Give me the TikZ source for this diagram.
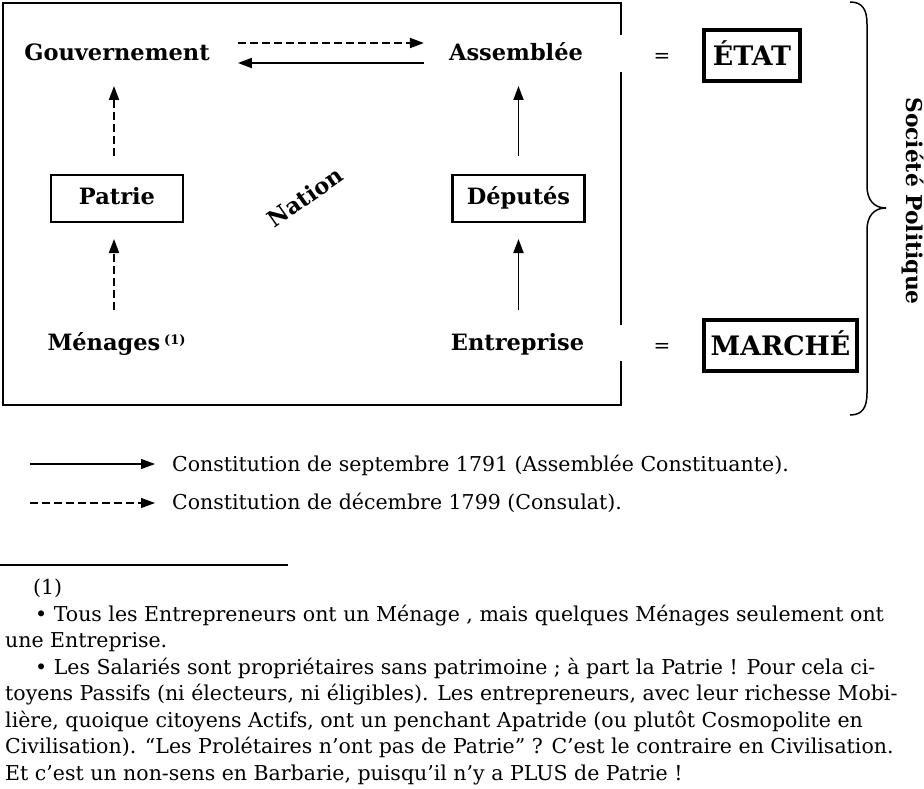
\documentclass[tikz,border=0pt]{standalone}
\usepackage{fontspec}
\setmainfont{DejaVu Serif}
\usetikzlibrary{arrows.meta}
\begin{document}
\begin{tikzpicture}[x=1pt,y=-1pt,
  lbl/.style={font=\bfseries\fontsize{22.5}{26}\selectfont, inner sep=0pt, anchor=base},
  frame/.style={line width=2.5pt},
  boxed/.style={draw, line width=2.5pt, inner sep=0pt, minimum width=132pt, minimum height=46.5pt, text height=16pt, text depth=4.5pt, font=\bfseries\fontsize{22.5}{26}\selectfont},
  bigbox/.style={draw, line width=4pt, inner sep=0pt, minimum height=51pt, text height=19.5pt, text depth=0pt, font=\bfseries\fontsize{26.8}{30}\selectfont},
  conn/.style={-{Triangle[length=14pt,width=10pt]}, line width=1.9pt},
  dconn/.style={conn, dash pattern=on 8pt off 4pt},
  legtext/.style={font=\fontsize{20.5}{24}\selectfont, anchor=base west, inner sep=0pt},
  fn/.style={font=\fontsize{20.5}{24}\selectfont, anchor=base west, inner sep=0pt},
  eq/.style={font=\fontsize{20}{24}\selectfont, inner sep=0pt}
]
\useasboundingbox (0,0) rectangle (924,789);

% main frame
\draw[frame] (621,35) -- (621,3) -- (3,3) -- (3,405) -- (621,405) -- (621,361);
\draw[frame] (621,72) -- (621,325);

% labels
\node[lbl] (gouv) at (117,61) {Gouvernement};
\node[lbl] (assem) at (516,61) {Assemblée};
\node[boxed] (patrie) at (117,198.5) {Patrie};
\node[boxed] (deputes) at (518.5,198.5) {Députés};
\node[lbl] (menages) at (116.5,350) {Ménages\,{\fontsize{13}{15}\selectfont\raisebox{6pt}{(1)}}};
\node[lbl] (entre) at (517.5,350) {Entreprise};
\node[lbl, anchor=center, rotate=35] (nation) at (305,197) {Nation};

% horizontal arrows
\draw[dconn] ([xshift=28pt,yshift=18pt]gouv.base east) -- ([xshift=-25pt,yshift=18pt]assem.base west);
\draw[conn] ([xshift=-25pt,yshift=-2pt]assem.base west) -- ([xshift=28pt,yshift=-2pt]gouv.base east);

% vertical arrows
\draw[dconn] ([xshift=-3pt,yshift=18pt]patrie.north) -- ([xshift=-3pt,yshift=-25pt]gouv.base);
\draw[dconn] ([xshift=-2.5pt,yshift=40pt]menages.base) -- ([xshift=-3pt,yshift=-16pt]patrie.south);
\draw[conn] ([yshift=18pt]deputes.north) -- ([yshift=-25pt]deputes.north |- assem.base);
\draw[conn] ([yshift=40pt]deputes.south |- entre.base) -- ([yshift=-16pt]deputes.south);

% right side
\node[eq] (eq1) at (662,58) {=};
\node[eq] (eq2) at (662,348) {=};
\node[bigbox, minimum width=96pt] (etat) at (752,55.5) {ÉTAT};
\node[bigbox, minimum width=153pt] (marche) at (780.5,345.5) {MARCHÉ};
\draw[line width=1.5pt] (850,2) .. controls (862,2) and (867,9) .. (867,24) -- (867,186)
  .. controls (867,200) and (874,208) .. (886,208)
  .. controls (874,208) and (867,216) .. (867,230) -- (867,393)
  .. controls (867,408) and (862,415) .. (850,415);
\node[lbl, anchor=center, rotate=-90, font=\bfseries\fontsize{21.8}{26}\selectfont] (societe) at (913,201) {Société Politique};

% legend
\node[legtext] (leg1) at (172,471) {Constitution de septembre 1791 (Assemblée Constituante).};
\node[legtext] (leg2) at (172,509) {Constitution de décembre 1799 (Consulat).};
\coordinate (la) at (30,464);
\coordinate (lb) at (30,503);
\draw[conn, line width=1.3pt] (la) -- ([xshift=-17pt,yshift=7pt]leg1.base west);
\draw[dconn, line width=1.3pt] (lb) -- ([xshift=-17pt,yshift=6pt]leg2.base west);

% footnote
\coordinate (r1) at (0,565);
\coordinate (r2) at (288,565);
\draw[line width=1.5pt] (r1) -- (r2);
\node[fn] (fn0) at (33,594) {(1)};
\node[fn] (fn1) at (35,621) {• Tous les Entrepreneurs ont un Ménage , mais quelques Ménages seulement ont};
\node[fn] (fn2) at (5,647.5) {une Entreprise.};
\node[fn] (fn3) at (35,674) {• Les Salariés sont propriétaires sans patrimoine ; à part la Patrie ! Pour cela ci-};
\node[fn] (fn4) at (5,700.5) {toyens Passifs (ni électeurs, ni éligibles). Les entrepreneurs, avec leur richesse Mobi-};
\node[fn] (fn5) at (5,727) {lière, quoique citoyens Actifs, ont un penchant Apatride (ou plutôt Cosmopolite en};
\node[fn] (fn6) at (5,753.5) {Civilisation). “Les Prolétaires n’ont pas de Patrie” ? C’est le contraire en Civilisation.};
\node[fn] (fn7) at (5,780) {Et c’est un non-sens en Barbarie, puisqu’il n’y a PLUS de Patrie !};
\end{tikzpicture}
\end{document}
